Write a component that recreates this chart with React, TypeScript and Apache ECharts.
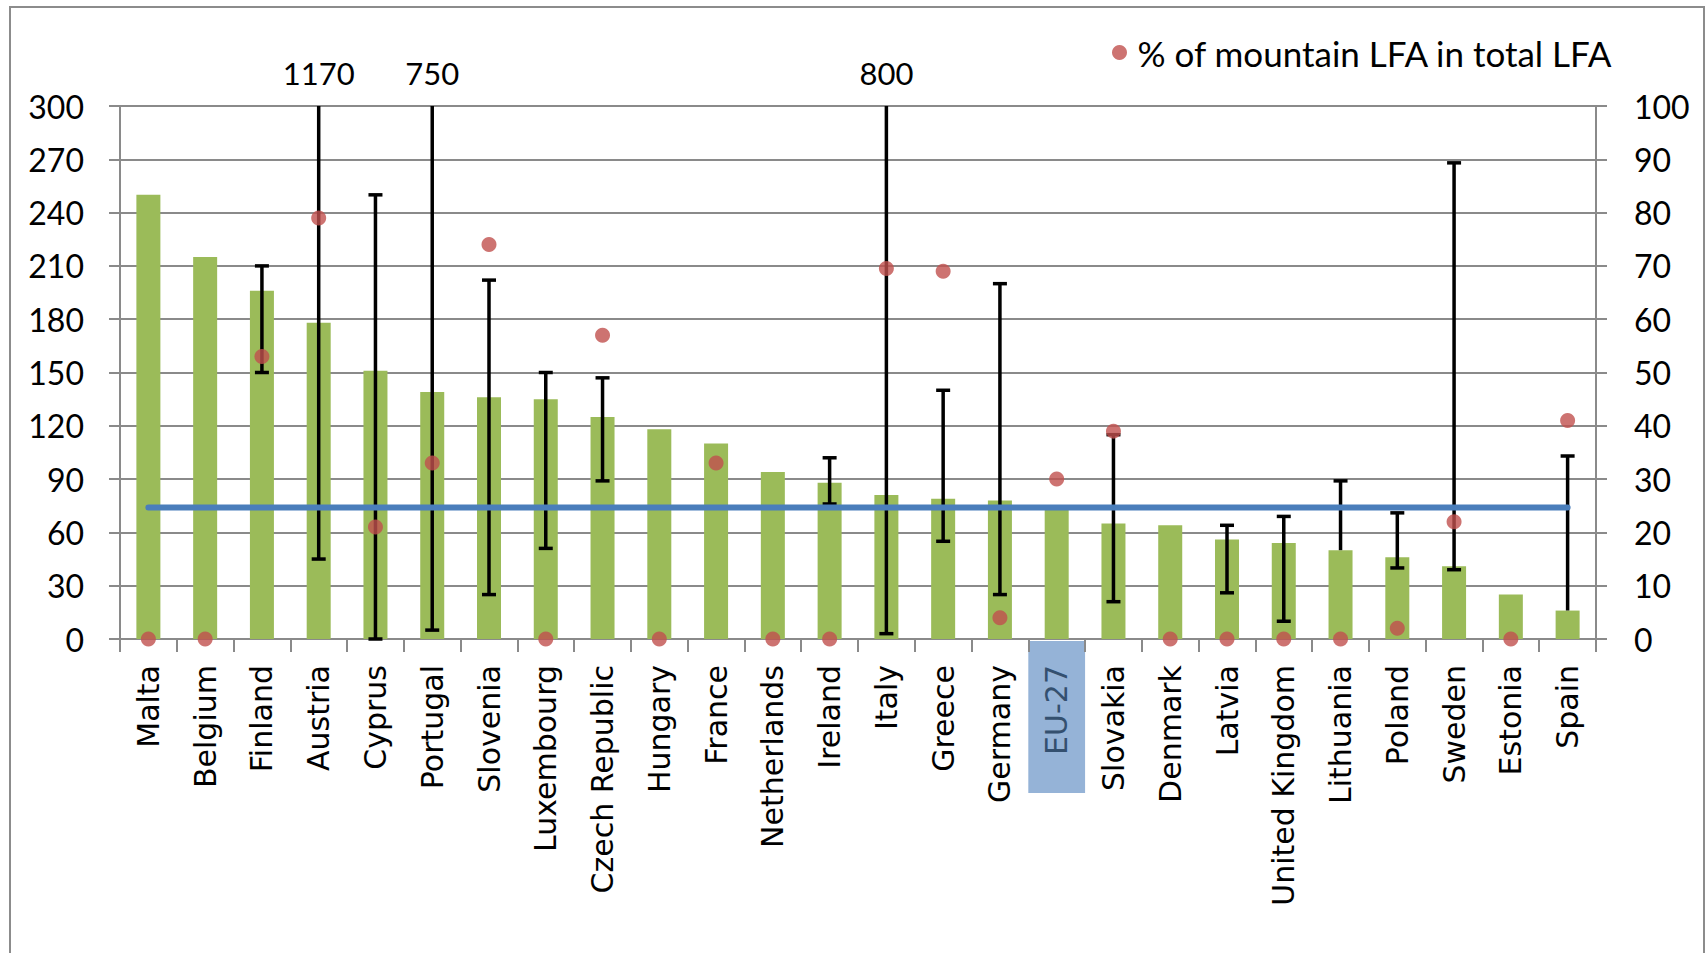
import React, { useEffect, useRef } from "react";
import * as echarts from "echarts";

const categories = [
  "Malta", "Belgium", "Finland", "Austria", "Cyprus", "Portugal", "Slovenia",
  "Luxembourg", "Czech Republic", "Hungary", "France", "Netherlands", "Ireland",
  "Italy", "Greece", "Germany", "EU-27", "Slovakia", "Denmark", "Latvia",
  "United Kingdom", "Lithuania", "Poland", "Sweden", "Estonia", "Spain",
];
const barValues = [250, 215, 196, 178, 151, 139, 136, 135, 125, 118, 110, 94, 88, 81, 79, 78, 74, 65, 64, 56, 54, 50, 46, 41, 25, 16];
const mountainShare = [0, 0, 53, 79, 21, 33, 74, 0, 57, 0, 33, 0, 0, 69.5, 69, 4, 30, 39, 0, 0, 0, 0, 2, 22, 0, 41];
const errorLow = [null, null, 150, 45, 0, 5, 25, 51, 89, null, null, null, 76, 3, 55, 25, null, 21, null, 26, 10, 50, 40, 39, null, 16];
const errorHigh = [null, null, 210, 1170, 250, 750, 202, 150, 147, null, null, null, 102, 800, 140, 200, null, 115, null, 64, 69, 89, 71, 268, null, 103];
const euAverage = 74;
const highlighted = "EU-27";
const legendName = "% of mountain LFA in total LFA";

const LEFT_MAX = 300;
const GRID_COLOR = "#8a8a8a";

export default function App() {
  const ref = useRef<HTMLDivElement>(null);
  useEffect(() => {
    if (!ref.current) return;
    const chart = echarts.init(ref.current, undefined, { renderer: "svg" });

    const errData: any[] = [];
    categories.forEach((_, i) => {
      if (errorLow[i] !== null && errorHigh[i] !== null) {
        errData.push([i, errorLow[i], errorHigh[i], barValues[i]]);
      }
    });

    const border = {
      type: "rect",
      silent: true,
      shape: { x: 10, y: 7, width: 1694, height: 1000 },
      style: { fill: "none", stroke: "#8c8c8c", lineWidth: 2 },
      z: -2,
    };

    const option: any = {
      animation: false,
      backgroundColor: "#ffffff",
      grid: { left: 120, right: 112, top: 106, bottom: 314, containLabel: false },
      legend: {
        data: [legendName],
        left: 1107,
        top: 30,
        icon: "circle",
        itemWidth: 26,
        itemHeight: 15,
        textStyle: { fontFamily: "Lato", fontSize: 35, color: "#000" },
      },
      graphic: [border],
      xAxis: {
        type: "category",
        data: categories,
        axisLine: { show: true, lineStyle: { color: GRID_COLOR, width: 2 } },
        axisTick: { show: true, length: 13, lineStyle: { color: GRID_COLOR, width: 2 } },
        axisLabel: {
          rotate: 90,
          interval: 0,
          margin: 26,
          fontFamily: "DejaVu Sans",
          fontSize: 30,
          color: "#000",
          formatter: (v: string) => (v === highlighted ? "{eu|" + v + "}" : v),
          rich: { eu: { color: "#34506f", fontFamily: "DejaVu Sans", fontSize: 30 } },
        },
      },
      yAxis: [
        {
          type: "value",
          min: 0,
          max: LEFT_MAX,
          interval: 30,
          position: "left",
          axisLine: { show: true, lineStyle: { color: GRID_COLOR, width: 2 } },
          axisTick: { show: true, length: 11, lineStyle: { color: GRID_COLOR, width: 2 } },
          splitLine: { show: true, lineStyle: { color: GRID_COLOR, width: 2 } },
          axisLabel: { fontFamily: "Lato", fontSize: 32, color: "#000", margin: 36 },
        },
        {
          type: "value",
          min: 0,
          max: 100,
          interval: 10,
          position: "right",
          axisLine: { show: true, lineStyle: { color: GRID_COLOR, width: 2 } },
          axisTick: { show: true, length: 11, lineStyle: { color: GRID_COLOR, width: 2 } },
          splitLine: { show: false },
          axisLabel: { fontFamily: "Lato", fontSize: 32, color: "#000", margin: 38 },
        },
      ],
      series: [
        {
          type: "bar",
          name: "bars",
          data: barValues,
          barWidth: 24,
          itemStyle: { color: "#9bbb59" },
          yAxisIndex: 0,
          z: 2,
        },
        {
          type: "custom",
          name: "errors",
          yAxisIndex: 0,
          z: 3,
          data: errData,
          renderItem: (params: any, api: any) => {
            const idx = api.value(0);
            const low = api.value(1);
            const high = api.value(2);
            const bar = api.value(3);
            const top = api.coord([idx, Math.min(high, LEFT_MAX)]);
            const bottom = api.coord([idx, low]);
            const capHalf = 7;
            const st = { stroke: "#000", lineWidth: 3.5 };
            const children: any[] = [
              { type: "line", shape: { x1: top[0], y1: top[1], x2: bottom[0], y2: bottom[1] }, style: st },
            ];
            if (high <= LEFT_MAX) {
              children.push({ type: "line", shape: { x1: top[0] - capHalf, y1: top[1], x2: top[0] + capHalf, y2: top[1] }, style: st });
            } else {
              children.push({
                type: "text",
                x: top[0],
                y: top[1] - 33,
                style: {
                  text: String(high),
                  fontFamily: "Lato",
                  fontSize: 31,
                  fill: "#000",
                  align: "center",
                  verticalAlign: "middle",
                },
              });
            }
            if (low !== bar) {
              children.push({ type: "line", shape: { x1: bottom[0] - capHalf, y1: bottom[1], x2: bottom[0] + capHalf, y2: bottom[1] }, style: st });
            }
            return { type: "group", children };
          },
        },
        {
          type: "line",
          name: "EU-27 average",
          data: categories.map(() => euAverage),
          yAxisIndex: 0,
          symbol: "none",
          lineStyle: { color: "#4a7ebb", width: 6, cap: "round" },
          z: 4,
        },
        {
          type: "scatter",
          name: legendName,
          data: mountainShare,
          yAxisIndex: 1,
          symbol: "circle",
          symbolSize: 15,
          itemStyle: { color: "#c0504d" },
          z: 5,
        },
      ],
    };
    chart.setOption(option);

    const cx = chart.convertToPixel({ xAxisIndex: 0 }, highlighted) as number;
    const c0 = chart.convertToPixel({ xAxisIndex: 0 }, categories[0]) as number;
    const c1 = chart.convertToPixel({ xAxisIndex: 0 }, categories[1]) as number;
    const band = c1 - c0;
    const y0 = chart.convertToPixel({ yAxisIndex: 0 }, 0) as number;
    chart.setOption({
      graphic: [
        border,
        {
          type: "rect",
          silent: true,
          shape: { x: cx - band / 2, y: y0 + 2, width: band, height: 152 },
          style: { fill: "#95b3d7" },
          z: -1,
        },
      ],
    });

    return () => chart.dispose();
  }, []);
  return (
    <div
      ref={ref}
      style={{ position: "fixed", left: 0, top: 0, width: 1708, height: 953 }}
    />
  );
}
